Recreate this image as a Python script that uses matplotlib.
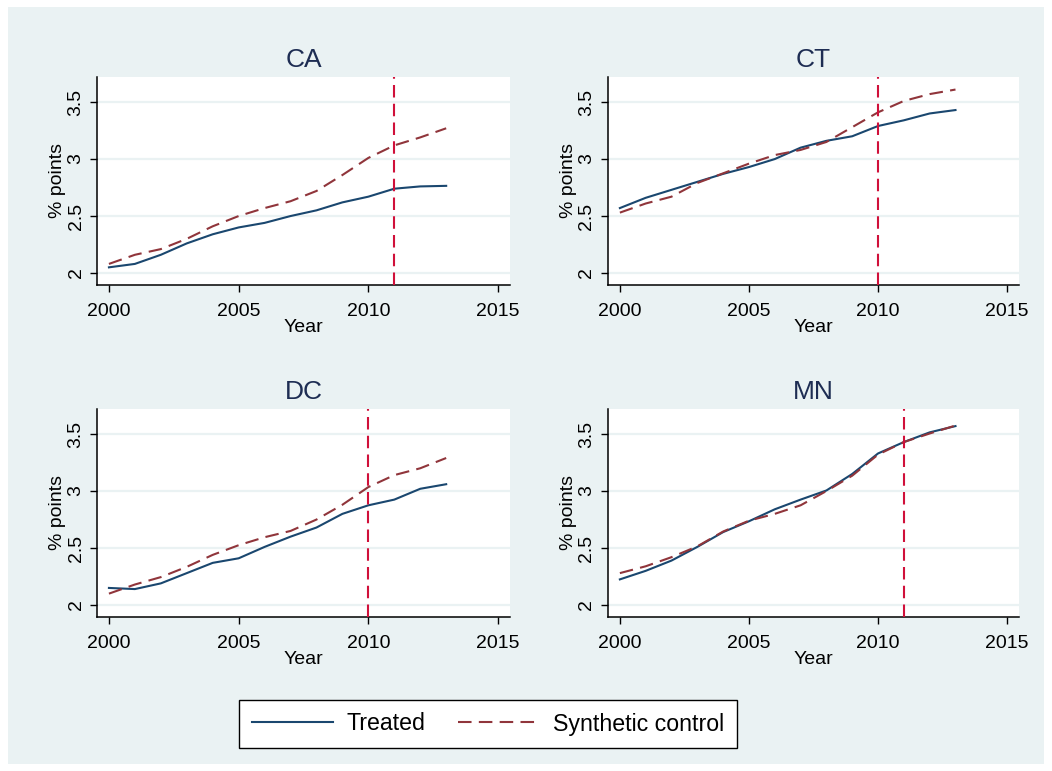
import matplotlib.pyplot as plt
import numpy as np

plt.rcParams['font.family'] = ['Liberation Sans', 'DejaVu Sans']

years = list(range(2000, 2014))

ca_treated = [2.05, 2.08, 2.16, 2.26, 2.34, 2.40, 2.44, 2.50, 2.55, 2.62, 2.67, 2.74, 2.76, 2.765]
ca_synth = [2.08, 2.16, 2.21, 2.30, 2.41, 2.50, 2.57, 2.63, 2.72, 2.86, 3.01, 3.12, 3.19, 3.27]
ct_treated = [2.57, 2.66, 2.73, 2.80, 2.87, 2.93, 3.00, 3.10, 3.16, 3.20, 3.29, 3.34, 3.40, 3.43]
ct_synth = [2.53, 2.61, 2.67, 2.79, 2.875, 2.96, 3.035, 3.08, 3.15, 3.28, 3.41, 3.51, 3.57, 3.61]
dc_treated = [2.15, 2.14, 2.19, 2.28, 2.37, 2.41, 2.51, 2.60, 2.68, 2.80, 2.875, 2.925, 3.02, 3.06]
dc_synth = [2.10, 2.18, 2.245, 2.335, 2.44, 2.525, 2.595, 2.65, 2.75, 2.88, 3.035, 3.14, 3.20, 3.29]
mn_treated = [2.225, 2.30, 2.39, 2.51, 2.64, 2.735, 2.84, 2.925, 3.005, 3.15, 3.33, 3.43, 3.515, 3.57]
mn_synth = [2.28, 2.34, 2.42, 2.515, 2.645, 2.74, 2.80, 2.875, 3.00, 3.135, 3.32, 3.43, 3.505, 3.575]

states = ['CA', 'CT', 'DC', 'MN']
treated = [ca_treated, ct_treated, dc_treated, mn_treated]
synth = [ca_synth, ct_synth, dc_synth, mn_synth]
treat_year = [2011, 2010, 2010, 2011]

bg = '#EAF2F3'
navy = '#1A476F'
maroon = '#90353B'
vred = '#D0103A'

W, H = 1052, 771
fig = plt.figure(figsize=(W / 100, H / 100), dpi=100, facecolor='white')

# stata-like outer background, drawn as an empty axes behind everything
bgax = fig.add_axes([8 / W, 7 / H, 1 - 16 / W, 1 - 14 / H], zorder=-1)
bgax.set_facecolor(bg)
bgax.set_xticks([])
bgax.set_yticks([])
for s in bgax.spines.values():
    s.set_visible(False)

# axes boxes in pixels: left, right, top, bottom
boxes = [(97, 510, 77, 285), (608, 1019, 77, 285),
         (97, 510, 409, 617), (608, 1019, 409, 617)]

for i, (l, r, t, b) in enumerate(boxes):
    ax = fig.add_axes([l / W, 1 - b / H, (r - l) / W, (b - t) / H])
    ax.set_facecolor('white')
    for yv in [2, 2.5, 3, 3.5]:
        ax.axhline(yv, color=bg, lw=1.6, zorder=1)
    ax.plot(years, treated[i], color=navy, lw=1.5, zorder=3)
    ax.plot(years, synth[i], color=maroon, lw=1.5, dashes=(6.5, 3.5), zorder=3)
    ax.axvline(treat_year[i], color=vred, lw=1.5, dashes=(6, 3), zorder=4)
    ax.set_xlim(1999.54, 2015.46)
    ax.set_ylim(1.895, 3.72)
    ax.set_xticks([2000, 2005, 2010, 2015])
    ax.set_yticks([2, 2.5, 3, 3.5])
    ax.set_yticklabels(['2', '2.5', '3', '3.5'], rotation=90, va='center')
    ax.tick_params(labelsize=14, length=5, width=1, color='black')
    ax.tick_params(axis='x', pad=8)
    ax.tick_params(axis='y', pad=4)
    for s in ['top', 'right']:
        ax.spines[s].set_visible(False)
    for s in ['left', 'bottom']:
        ax.spines[s].set_linewidth(1.1)
    ax.set_xlabel('Year', fontsize=14, labelpad=-1)
    ax.set_ylabel('% points', fontsize=14, labelpad=1)
    ax.set_title(states[i], fontsize=19, color='#1E2D53', pad=7)

h1, = bgax.plot([], [], color=navy, lw=1.5)
h2, = bgax.plot([], [], color=maroon, lw=1.5, dashes=(6.5, 3.5))
leg = fig.legend([h1, h2], ['Treated', 'Synthetic control'], loc='center',
                 bbox_to_anchor=(488 / W, 1 - 724 / H), ncol=2, fontsize=16.7,
                 frameon=True, fancybox=False, edgecolor='black', framealpha=1,
                 handlelength=3.5, columnspacing=1.4, borderpad=0.55,
                 handletextpad=0.6, borderaxespad=0)
leg.get_frame().set_linewidth(1.0)

fig.savefig('out.png', dpi=100, facecolor='white')
